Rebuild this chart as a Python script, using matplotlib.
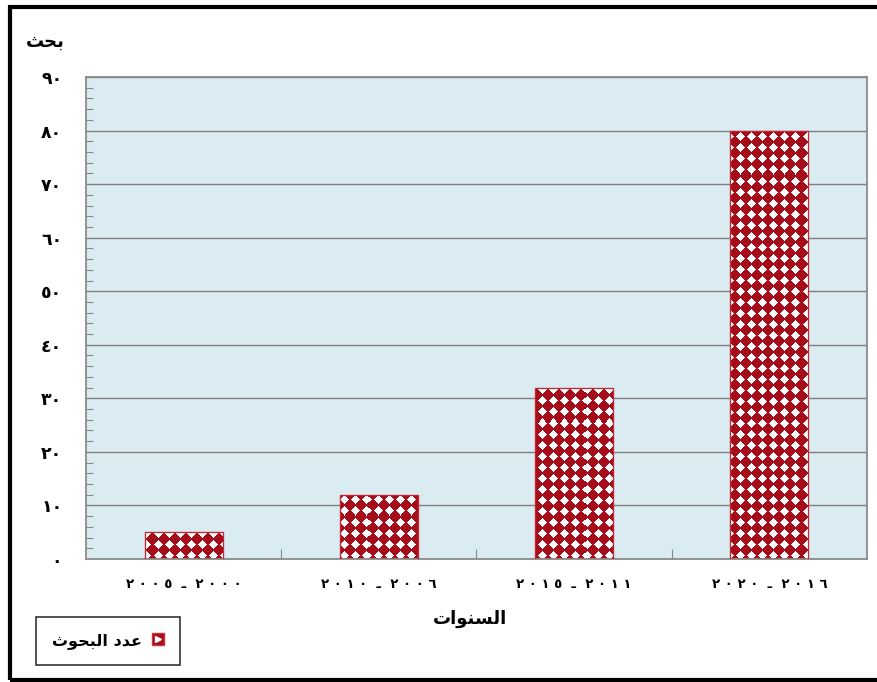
import numpy as np
import matplotlib
matplotlib.use("Agg")
import matplotlib.pyplot as plt
from matplotlib.lines import Line2D
from matplotlib.patches import Rectangle
from matplotlib.legend_handler import HandlerTuple

plt.rcParams['font.family'] = ['DejaVu Sans']

# data (Arabic text pre-shaped in visual order, matplotlib does no RTL shaping)
categories = ["\u0662 \u0660 \u0660 \u0665  \u0640  \u0662 \u0660 \u0660 \u0660",
              "\u0662 \u0660 \u0661 \u0660  \u0640  \u0662 \u0660 \u0660 \u0666",
              "\u0662 \u0660 \u0661 \u0665  \u0640  \u0662 \u0660 \u0661 \u0661",
              "\u0662 \u0660 \u0662 \u0660  \u0640  \u0662 \u0660 \u0661 \u0666"]
values = [5, 12, 32, 80]
y_ticks = [0, 10, 20, 30, 40, 50, 60, 70, 80, 90]
y_tick_labels = ["\u0660", "\u0661\u0660", "\u0662\u0660", "\u0663\u0660", "\u0664\u0660",
                 "\u0665\u0660", "\u0666\u0660", "\u0667\u0660", "\u0668\u0660", "\u0669\u0660"]
y_label = "\uFE9A\uFEA4\uFE91"                       # بحث
x_label = "\uFE95\uFE8D\uFEEE\uFEE8\uFEB4\uFEDF\uFE8D"  # السنوات
series_name = "\uFE99\uFEEE\uFEA4\uFE92\uFEDF\uFE8D \uFEA9\uFEAA\uFECB"  # عدد البحوث

red = '#a50d1a'
bg = '#daebf2'

fig = plt.figure(figsize=(8.77, 6.82), dpi=100)
ax = fig.add_axes([0.098, 0.1804, 0.8906, 0.7066])
ax.set_facecolor(bg)

x = np.arange(len(values))
bars = ax.bar(x, values, width=0.4, color='white', edgecolor='#d0303a',
              linewidth=0.8, zorder=2)

ax.set_xlim(-0.5, len(values) - 0.5)
ax.set_ylim(0, 90)

# diamond texture, built in pixel space and clipped to every bar
W = int(round(fig.dpi * fig.get_figwidth() * 0.8906))
H = int(round(fig.dpi * fig.get_figheight() * 0.7066))
p = 11.0
xx, yy = np.meshgrid(np.arange(W) + 0.5, np.arange(H) + 0.5)
dx = np.abs((xx % p) - p / 2)
dy = np.abs((yy % p) - p / 2)
mask = (dx + dy) > p / 2 - 0.6
tex = np.ones((H, W, 3))
rgb = np.array(matplotlib.colors.to_rgb(red))
tex[mask] = rgb
for b in bars:
    im = ax.imshow(tex, extent=(-0.5, len(values) - 0.5, 0, 90), aspect='auto',
                   origin='upper', interpolation='nearest', zorder=2.5)
    im.set_clip_path(b)
ax.set_xlim(-0.5, len(values) - 0.5)
ax.set_ylim(0, 90)
for b in bars:
    r = Rectangle(b.get_xy(), b.get_width(), b.get_height(), fill=False,
                  edgecolor='#c8242e', linewidth=0.9, zorder=3)
    ax.add_patch(r)

# grid and ticks
ax.set_yticks(y_ticks)
ax.set_yticklabels(y_tick_labels, fontsize=12.5, fontweight='bold')
ax.set_yticks(np.arange(0, 91, 2), minor=True)
ax.yaxis.grid(True, color='#7f7f7f', linewidth=1.0, zorder=1)
ax.set_axisbelow(True)
ax.tick_params(axis='y', which='major', length=0, pad=17)
ax.tick_params(axis='y', which='minor', direction='in', length=5,
               color='#8a8a8a', width=0.8)

ax.set_xticks(x)
ax.set_xticklabels(categories, fontsize=9.5, fontweight='bold')
ax.set_xticks(x[:-1] + 0.5, minor=True)
ax.tick_params(axis='x', which='major', length=0, pad=14)
ax.tick_params(axis='x', which='minor', direction='in', length=7,
               color='#8a8a8a', width=0.8)

for s in ax.spines.values():
    s.set_color('#8a8a8a')
    s.set_linewidth(1.3)

fig.text(65 / 877, 1 - 42 / 682, y_label, ha='right', va='center',
         fontsize=13, fontweight='bold')
fig.text(470 / 877, 1 - 619 / 682, x_label, ha='center', va='center',
         fontsize=13, fontweight='bold')

# legend
h1 = Line2D([], [], linestyle='none', marker='s', markersize=8,
            markerfacecolor=red, markeredgecolor='#d0303a')
h2 = Line2D([], [], linestyle='none', marker='>', markersize=4,
            markerfacecolor='white', markeredgecolor='white')
leg = fig.legend([(h1, h2)], [series_name],
                 handler_map={tuple: HandlerTuple(ndivide=1, pad=0)},
                 loc='lower left', bbox_to_anchor=(36 / 877, 1 - 665 / 682),
                 markerfirst=False, fancybox=False, frameon=True,
                 handlelength=0.8, handletextpad=0.6, borderpad=1.0,
                 borderaxespad=0, prop={'size': 11.5, 'weight': 'bold'})
leg.get_frame().set_edgecolor('black')
leg.get_frame().set_linewidth(1.2)

# outer frame
fig.patches.append(Rectangle((10 / 877, 2 / 682), 1.0, 673 / 682, fill=False,
                             edgecolor='black', linewidth=3,
                             transform=fig.transFigure, figure=fig))

fig.savefig('out.png', dpi=100)
